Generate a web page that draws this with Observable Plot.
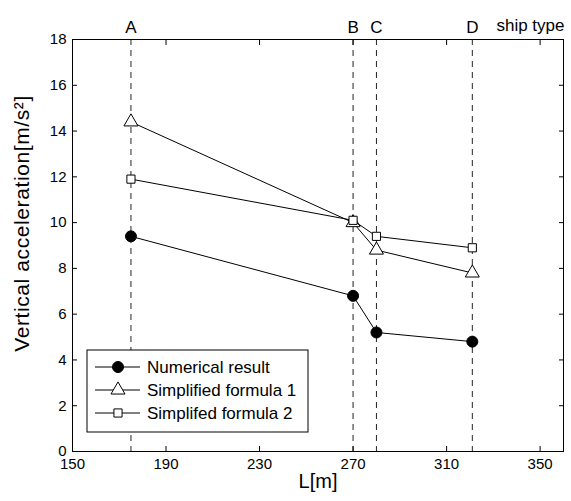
<!DOCTYPE html>
<html>
<head>
<meta charset="utf-8">
<script src="https://cdn.jsdelivr.net/npm/d3@7"></script>
<script src="https://cdn.jsdelivr.net/npm/@observablehq/plot@0.6"></script>
<style>
  html, body { margin: 0; padding: 0; background: #fff; }
  #chart { width: 571px; height: 501px; }
</style>
</head>
<body>
<div id="chart"></div>
<script>
const shipTypes = ["A", "B", "C", "D"];
const lengths = [175, 270, 280, 321];
const numerical = [9.4, 6.8, 5.2, 4.8];
const formula1 = [14.4, 10.0, 8.8, 7.8];
const formula2 = [11.9, 10.1, 9.4, 8.9];
const seriesNames = ["Numerical result", "Simplified formula 1", "Simplifed formula 2"];
const xTicks = [150, 190, 230, 270, 310, 350];
const yTicks = [0, 2, 4, 6, 8, 10, 12, 14, 16, 18];
const xLabel = "L[m]";
const yLabel = "Vertical acceleration[m/s²]";
const shipTypeLabel = "ship type";

const seriesValues = [numerical, formula1, formula2];
const symbols = ["circle", "triangle", "square"];
const fills = ["black", "white", "white"];
const radii = [5.5, 5.2, 4.6];

const rows = [];
seriesValues.forEach((vals, s) => {
  vals.forEach((v, i) => rows.push({series: seriesNames[s], x: lengths[i], y: v, s}));
});
const ships = shipTypes.map((t, i) => ({type: t, x: lengths[i]}));

const font = "Liberation Sans, Arial, sans-serif";

const marks = [
  Plot.ruleX(ships, {x: "x", stroke: "#222", strokeWidth: 1, strokeDasharray: "6,5"}),
  Plot.frame({stroke: "black", strokeWidth: 1}),
  Plot.axisX({anchor: "bottom", ticks: xTicks, tickSize: 0, tickPadding: 7, fontSize: 15, label: null}),
  Plot.axisX({anchor: "bottom", ticks: xTicks, tickSize: -5, tickFormat: () => "", label: null}),
  Plot.axisX({anchor: "top", ticks: xTicks, tickSize: -5, tickFormat: () => "", label: null}),
  Plot.axisY({anchor: "left", ticks: yTicks, tickSize: 0, tickPadding: 6, fontSize: 15, label: null}),
  Plot.axisY({anchor: "left", ticks: yTicks, tickSize: -5, tickFormat: () => "", label: null}),
  Plot.axisY({anchor: "right", ticks: yTicks, tickSize: -5, tickFormat: () => "", label: null}),
  Plot.text([xLabel], {text: d => d, frameAnchor: "bottom", dy: 36, fontSize: 20}),
  Plot.text([yLabel], {text: d => d, frameAnchor: "left", textAnchor: "middle", rotate: -90, dx: -50, dy: -22, fontSize: 21}),
  Plot.text(ships, {x: "x", text: "type", frameAnchor: "top", dy: -19, fontSize: 17}),
  Plot.text([shipTypeLabel], {x: [360], text: d => d, frameAnchor: "top", textAnchor: "end", dx: 1, dy: -21, fontSize: 17}),
];
seriesValues.forEach((vals, s) => {
  const data = rows.filter(r => r.s === s);
  marks.push(Plot.line(data, {x: "x", y: "y", stroke: "black", strokeWidth: 1}));
  marks.push(Plot.dot(data, {x: "x", y: "y", symbol: symbols[s], r: radii[s], fill: fills[s], stroke: "black", strokeWidth: 1}));
});

const plot = Plot.plot({
  width: 571,
  height: 501,
  marginLeft: 72,
  marginRight: 8,
  marginTop: 39,
  marginBottom: 50,
  style: {fontFamily: font, color: "black", background: "white", fontSize: "15px"},
  x: {domain: [150, 360], label: null},
  y: {domain: [0, 18], label: null},
  marks
});
document.getElementById("chart").appendChild(plot);

const svg = d3.select(plot);
// slightly looser letter spacing on the y label, as in the reference
svg.selectAll("text").filter(function () { return this.textContent === yLabel; })
  .attr("letter-spacing", "0.6px");

// Legend box (drawn in the SVG, lower-left of plot area)
const lg = svg.append("g").attr("font-family", font).attr("font-size", 17).attr("text-anchor", "start");
const lx = 87, ly = 350, lw = 221, lh = 82, rowH = 23;
lg.append("rect").attr("x", lx).attr("y", ly).attr("width", lw).attr("height", lh)
  .attr("fill", "white").attr("stroke", "black").attr("stroke-width", 1);
seriesNames.forEach((name, s) => {
  const cy = ly + 17 + s * rowH;
  lg.append("line").attr("x1", lx + 8).attr("x2", lx + 53).attr("y1", cy).attr("y2", cy)
    .attr("stroke", "black").attr("stroke-width", 1);
  const sym = d3.symbol().type([d3.symbolCircle, d3.symbolTriangle, d3.symbolSquare][s])
    .size(Math.PI * radii[s] * radii[s]);
  lg.append("path").attr("d", sym()).attr("transform", `translate(${lx + 31},${cy})`)
    .attr("fill", fills[s]).attr("stroke", "black").attr("stroke-width", 1);
  lg.append("text").attr("x", lx + 60).attr("y", cy).attr("dy", "0.35em").text(name);
});
</script>
</body>
</html>
